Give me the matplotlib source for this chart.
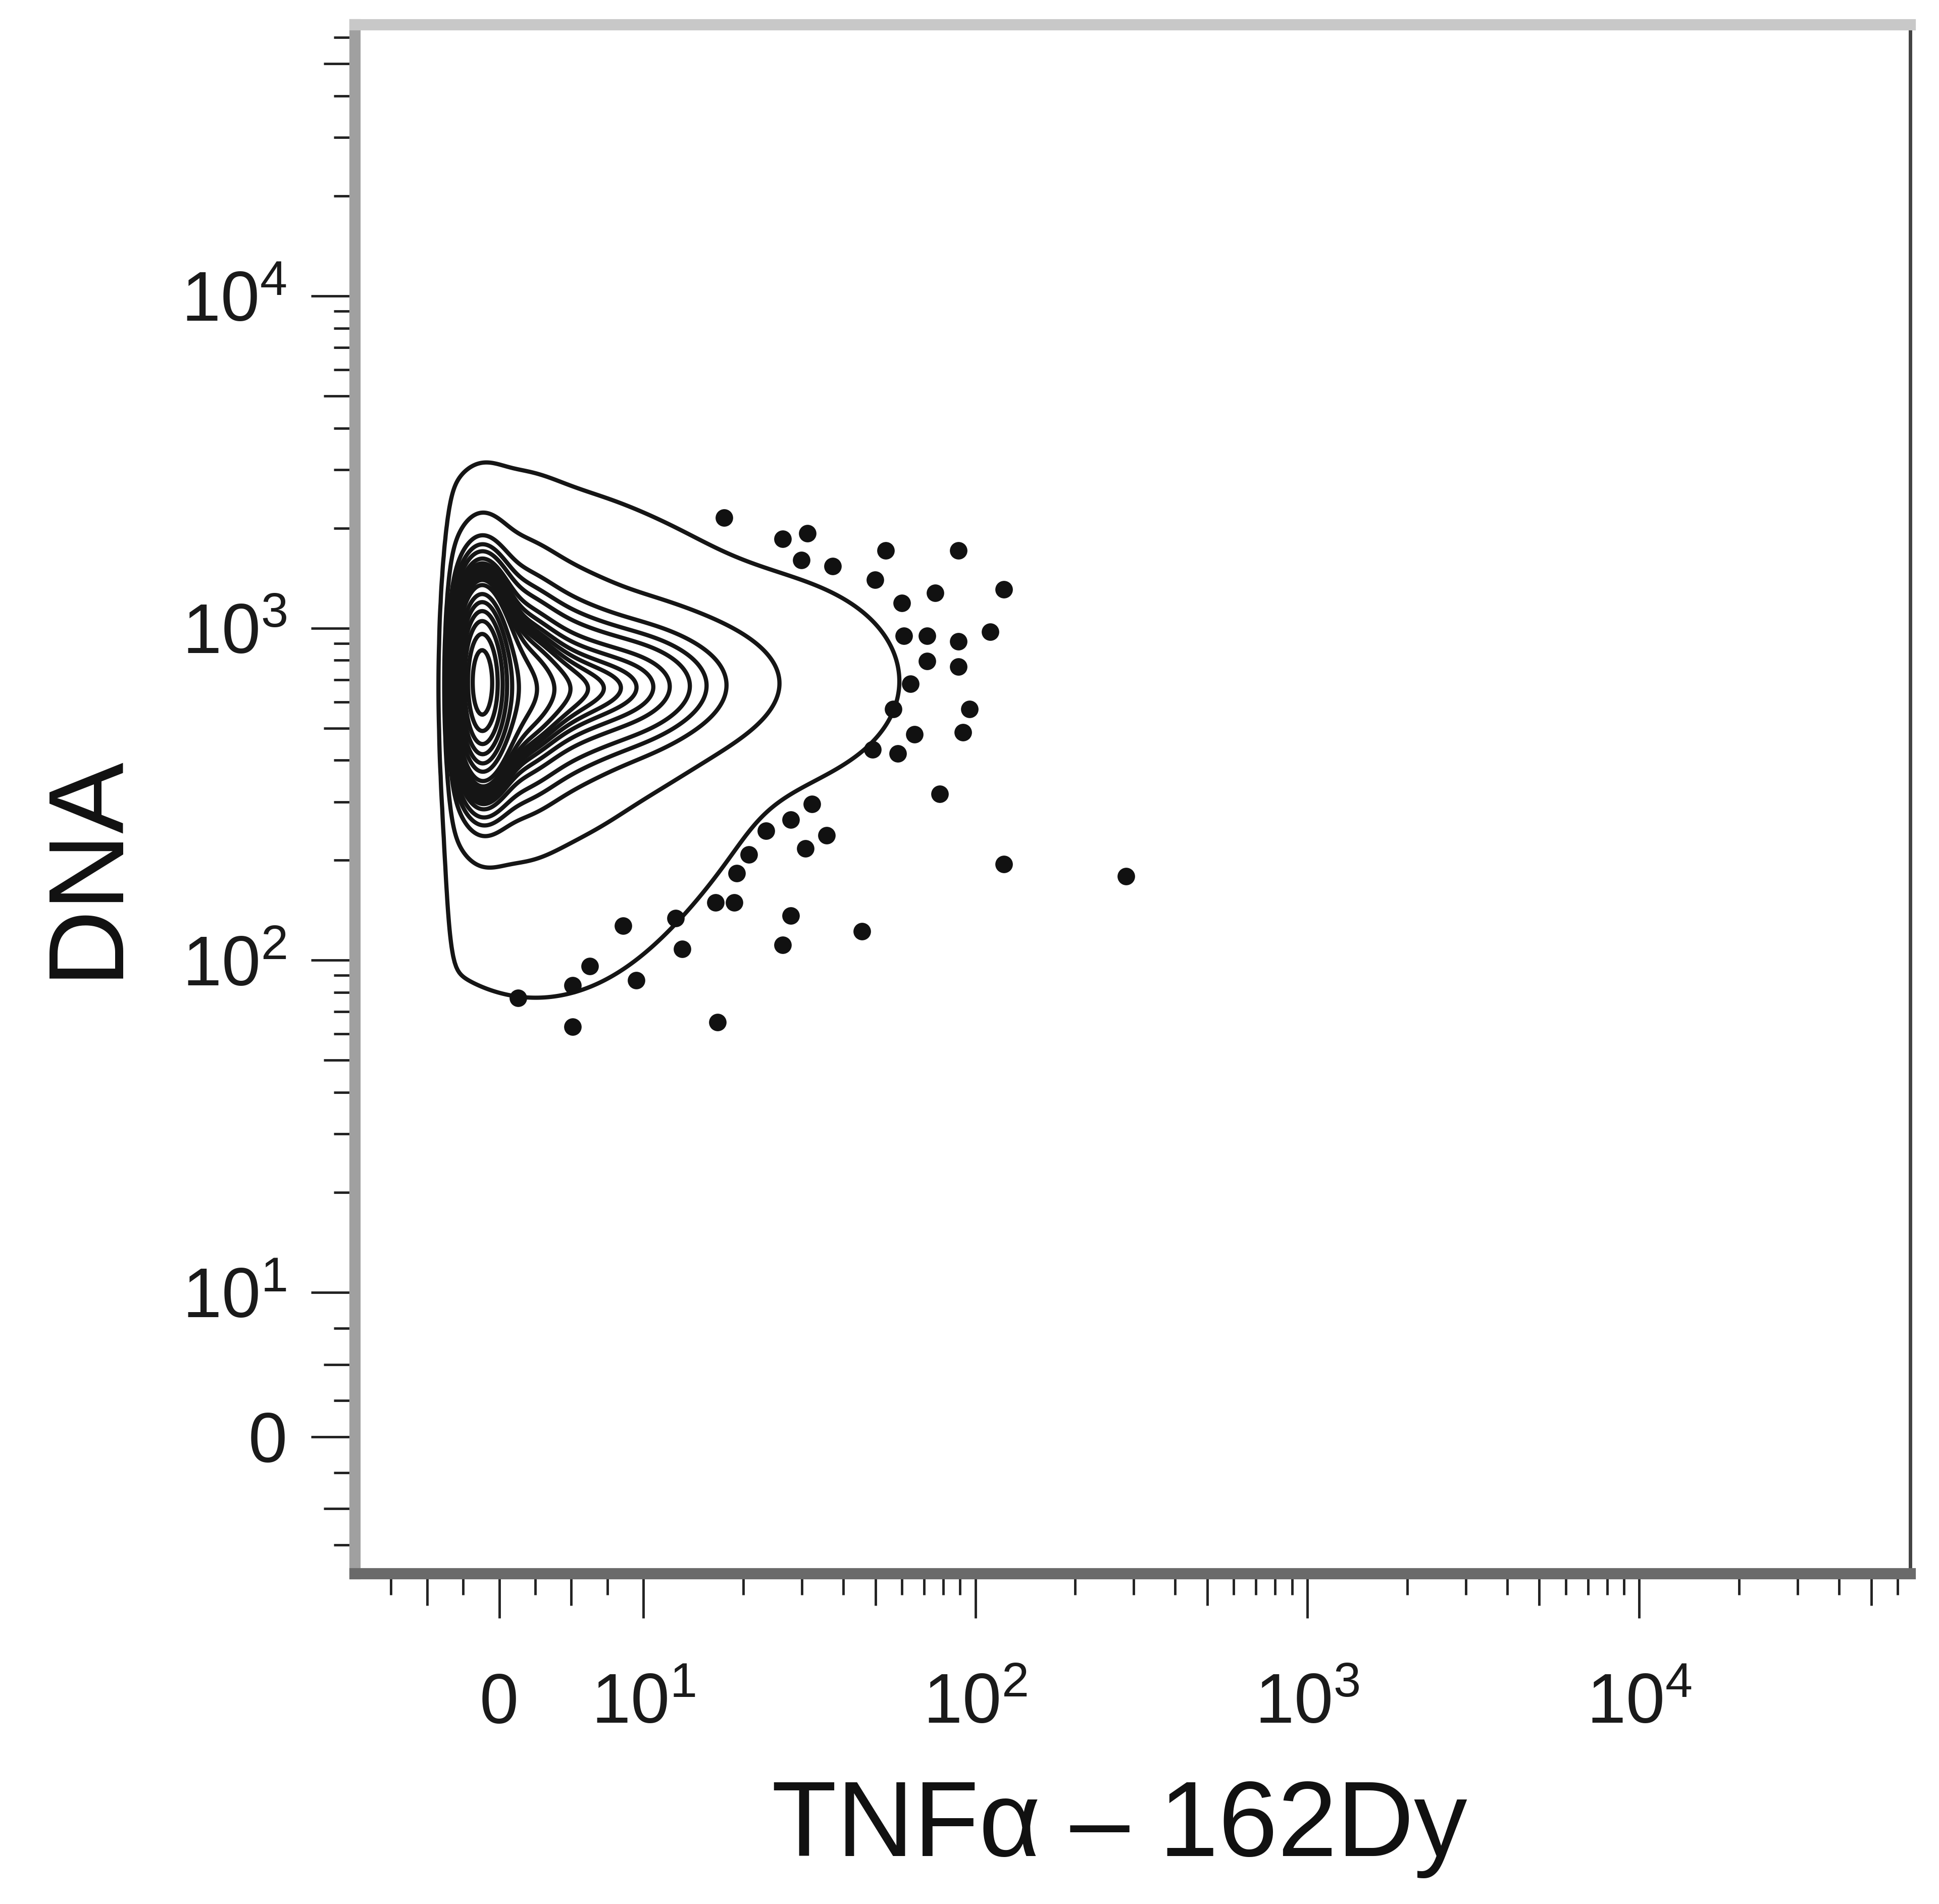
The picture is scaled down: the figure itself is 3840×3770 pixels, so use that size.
import numpy as np
import matplotlib
matplotlib.use("Agg")
import matplotlib.pyplot as plt

plt.rcParams['font.family'] = ['Liberation Sans', 'DejaVu Sans']
plt.rcParams['mathtext.fontset'] = 'custom'
plt.rcParams['mathtext.rm'] = 'Liberation Sans'
plt.rcParams['mathtext.it'] = 'Liberation Sans:italic'
plt.rcParams['mathtext.bf'] = 'Liberation Sans:bold'

# --- data ---------------------------------------------------------------
# populations of the contour plot (centre in channel units, spread in decades)
pop_x = [-1.3, 0.8, 4.2, 8.2, 12.0, 2.5, 10.0, 22.4]
pop_y = [692, 661, 661, 661, 676, 437, 575, 692]
pop_sx = [0.05, 0.09, 0.11, 0.13, 0.15, 0.26, 0.20, 0.22]
pop_sy = [0.18, 0.20, 0.17, 0.13, 0.11, 0.355, 0.25, 0.16]
pop_w = [0.40, 0.20, 0.11, 0.08, 0.05, 0.12, 0.04, 0.03]
x_floor = -3.5          # no events left of this channel value

# where each contour crosses the population's mid line (TNFa value), at DNA = 676
tip_x = [59, 25.7, 17.8, 15.5, 13.8, 12.0, 10.7, 9.5, 8.4, 7.2, 6.1, 4.9, 3.8, 2.6]
tip_y = 676
core_factor = [1.25, 1.5, 1.8, 2.15, 2.6, 3.1, 3.7, 4.4, 5.3]   # contours in the dense core

# outlier events shown outside the outer contour
out_x = [17.5, 26.3, 31.2, 29.9, 37.2, 53.6, 89, 49.8, 60, 75.8, 122, 111, 61,
         71.6, 89, 71.6, 89, 63.8, 96, 91.6, 56.6, 65.6, 49.1, 58.5, 78.2, 122,
         32.2, 35.6, 30.8, 27.8, 23.4, 20.8, 19.1, 18.8, 16.5, 27.8, 26.3, 45.6,
         12.5, 13.1, 8.6, 9.5, 6.3, 5.1, 1.3, 5.1, 16.7, 284]
out_y = [2153, 1858, 1932, 1600, 1538, 1714, 1714, 1400, 1191, 1274, 1309, 975,
         948, 948, 912, 796, 766, 679, 570, 485, 570, 479, 431, 419, 317, 195,
         295, 238, 217, 265, 245, 208, 183, 149, 149, 136, 111, 122, 134, 108,
         127, 87, 96, 84, 77, 63, 65, 179]

major_vals = [0, 10, 100, 1000, 10000]
major_labels = ['0', r'$10^1$', r'$10^2$', r'$10^3$', r'$10^4$']
lin_minor = [-7.5, -5, -2.5, 2.5, 5, 7.5]
log_minor = [m * 10 ** k for k in range(1, 5) for m in range(2, 10) if m * 10 ** k < 65536]
mid_vals = [-5, 5, 50, 500, 5000, 50000]

# --- biexponential-like axis: linear below 10, log above ----------------
LIN = 10.0


def fwd(x):
    x = np.asarray(x, dtype=float)
    return np.where(x >= LIN, np.log10(np.maximum(x, LIN)),
                    1 + (x - LIN) / (LIN * np.log(10)))


def inv(f):
    f = np.asarray(f, dtype=float)
    return np.where(f >= 1, 10 ** np.clip(f, 1, 30),
                    LIN + (f - 1) * LIN * np.log(10))


def density(U, V):
    Z = np.zeros_like(np.asarray(U, dtype=float))
    for cx, cy, sx, sy, w in zip(pop_x, pop_y, pop_sx, pop_sy, pop_w):
        Z = Z + w / (sx * sy) * np.exp(-0.5 * (((U - fwd(cx)) / sx) ** 2
                                               + ((V - fwd(cy)) / sy) ** 2))
    return Z / (1 + np.exp(-(U - fwd(x_floor)) / 0.01))


fig = plt.figure(figsize=(38.4, 37.7), dpi=100)
ax = fig.add_axes([0.1831, 0.1735, 0.8021, 0.8135])
ax.set_xscale('function', functions=(fwd, inv))
ax.set_yscale('function', functions=(fwd, inv))
ax.set_xlim(-10, 65536)
ax.set_ylim(-9.5, 65536)

# density on a grid that is even in display space
u = np.linspace(fwd(-10), fwd(65536), 1000)
v = np.linspace(fwd(-9.5), fwd(65536), 1000)
U, V = np.meshgrid(u, v)
Z = density(U, V)

tip_levels = density(fwd(np.array(tip_x, dtype=float)), fwd(tip_y))
levels = sorted(set(tip_levels) | set(tip_levels.max() * np.array(core_factor)))
levels = [lv for lv in levels if lv < 0.97 * Z.max()]

ax.contour(inv(U), inv(V), Z, levels=levels, colors='#151515', linewidths=6)
ax.plot(out_x, out_y, 'o', color='#111111', ms=25, mec='none')

# ticks
for axis, labpad in ((ax.xaxis, 150), (ax.yaxis, 34)):
    axis.set_ticks(major_vals)
    axis.set_ticklabels(major_labels)
    axis.set_ticks(lin_minor + log_minor, minor=True)
    axis.set_tick_params(which='major', length=63, width=3.5, pad=labpad,
                         labelsize=100, color='#222222', labelcolor='#1a1a1a')
    axis.set_tick_params(which='minor', length=30, width=3.5, color='#222222')
    locs = lin_minor + log_minor
    for t, loc in zip(axis.get_minor_ticks(len(locs)), locs):
        if loc in mid_vals:
            t.tick1line.set_markersize(45)
ax.tick_params(direction='out', top=False, right=False)
for t in ax.xaxis.get_major_ticks():
    t.label1.set_va('baseline')

for side, c, lw in (('left', '#a0a0a0', 16), ('top', '#c8c8c8', 16),
                    ('bottom', '#6a6a6a', 16), ('right', '#444444', 5)):
    ax.spines[side].set_color(c)
    ax.spines[side].set_linewidth(lw)

ax.set_xlabel('TNFα – 162Dy', fontsize=152, color='#111111')
ax.set_ylabel('DNA', fontsize=152, color='#111111')
ax.xaxis.set_label_coords(0.4916, -0.1324)
ax.yaxis.set_label_coords(-0.140, 0.457)

fig.savefig('out.png', dpi=100, facecolor='white')
